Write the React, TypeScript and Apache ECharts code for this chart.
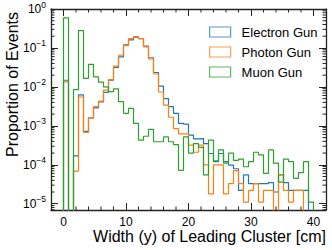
import React, { useEffect, useRef } from "react";
import * as echarts from "echarts";

// Histogram binning: 50 bins of 0.8 cm starting at 0 cm
const binStart = 0;
const binWidth = 0.8;

// Proportion of events per bin (0 = empty bin)
const electronGun = [
  0.0148, 0, 1.7e-4, 6.2e-3, 7.2e-4, 1.6e-3, 2.9e-3, 4.1e-3, 7.2e-3, 0.0148,
  0.0316, 0.059, 0.12, 0.162, 0.19, 0.174, 0.112, 0.056, 0.0234, 0.0105,
  5.0e-3, 3.1e-3, 2.1e-3, 1.15e-3, 1.1e-3, 5.8e-4, 4.6e-4, 4.7e-4, 3.5e-4, 1.95e-4,
  1.2e-4, 1.95e-4, 1.2e-4, 9.8e-5, 7.9e-5, 2.2e-5, 5.5e-5, 3.3e-5, 3.3e-5, 3.3e-5,
  3.3e-5, 3.5e-5, 2.0e-5, 5.5e-5, 3.5e-5, 2.2e-5, 2.2e-5, 2.2e-5, 2.2e-5, 0,
];
const photonGun = [
  0.0135, 0, 6.9e-5, 5.5e-3, 6.8e-4, 1.6e-3, 3.1e-3, 4.3e-3, 8.3e-3, 0.0155,
  0.034, 0.065, 0.115, 0.174, 0.195, 0.174, 0.107, 0.052, 0.0214, 7.4e-3,
  3.4e-3, 1.66e-3, 8.5e-4, 6.2e-4, 6.2e-4, 3.2e-4, 2.1e-4, 3.2e-4, 1.0e-4, 1.8e-5,
  1.0e-4, 1.0e-4, 1.8e-5, 3.3e-5, 7.1e-5, 3.3e-5, 1.1e-5, 2.2e-5, 3.3e-5, 1.1e-5,
  2.2e-5, 2.2e-5, 0, 5.5e-5, 2.2e-5, 1.1e-5, 2.2e-5, 2.2e-5, 0, 0,
];
const muonGun = [
  0.59, 0, 8.5e-3, 0.28, 0.0166, 0.038, 0.018, 0.0132, 0.01, 7.6e-3,
  8.9e-3, 4.2e-3, 2.1e-3, 2.8e-3, 1.15e-3, 4.3e-4, 5.4e-4, 8.1e-4, 3.9e-4, 3.9e-4,
  5.2e-4, 3.9e-4, 3.3e-4, 7.2e-5, 5.2e-4, 2.0e-4, 3.5e-4, 2.8e-4, 5.5e-5, 4.3e-4,
  1.26e-4, 2.4e-4, 1.1e-4, 2.0e-4, 1.3e-4, 1.4e-4, 8.9e-5, 1.2e-4, 2.1e-4, 1.8e-4,
  6.0e-5, 2.4e-4, 1.1e-4, 3.6e-5, 1.4e-4, 1.2e-4, 4.5e-5, 6.3e-5, 1.2e-4, 1.1e-5,
];

const seriesNames = ["Electron Gun", "Photon Gun", "Muon Gun"];
const seriesColors = ["#1f77b4", "#ff7f0e", "#2ca02c"];
const xTickLabels = [0, 10, 20, 30, 40];

const X_MIN = -2;
const X_MAX = 42;
const Y_MIN = 6.9e-6;
const Y_MAX = 1;
const FLOOR = 1e-9;
const FONT = "'Liberation Sans', Arial, sans-serif";
const AXIS_COLOR = "#222";

function stepPoints(vals: number[]): number[][] {
  const pts: number[][] = [[binStart, FLOOR]];
  vals.forEach((v, i) => {
    const lo = binStart + i * binWidth;
    const hi = lo + binWidth;
    const y = v > 0 ? v : FLOOR;
    pts.push([lo, y], [hi, y]);
  });
  pts.push([binStart + vals.length * binWidth, FLOOR]);
  return pts;
}

function xMinorTicks(): number[] {
  const out: number[] = [];
  for (let v = 2; v < X_MAX; v += 2) if (v % 10 !== 0) out.push(v);
  return out;
}

function yMinorTicks(): number[] {
  const out: number[] = [];
  for (let n = -6; n <= -1; n++) {
    for (let k = 2; k <= 9; k++) {
      const v = Number((k * Math.pow(10, n)).toPrecision(3));
      if (v >= Y_MIN && v <= Y_MAX) out.push(v);
    }
  }
  return out;
}

function yLabel(v: number): string {
  const l = Math.log10(v);
  const e = Math.round(l);
  if (Math.abs(l - e) > 1e-6) return "";
  const exp = e < 0 ? "\u2212" + -e : String(e);
  return "{b|10}{s|" + exp + "}";
}

export default function App() {
  const ref = useRef<HTMLDivElement>(null);
  useEffect(() => {
    if (!ref.current) return;
    const chart = echarts.init(ref.current, undefined, { renderer: "svg" });
    const data = [electronGun, photonGun, muonGun];

    const baseX = {
      type: "value",
      min: X_MIN,
      max: X_MAX,
      axisLine: { show: true, onZero: false, lineStyle: { color: AXIS_COLOR, width: 1.3 } },
      axisTick: { show: true, inside: true, length: 7, lineStyle: { color: AXIS_COLOR, width: 1 } },
      splitLine: { show: false },
    };
    const baseY = {
      type: "log",
      logBase: 10,
      min: Y_MIN,
      max: Y_MAX,
      axisLine: { show: true, onZero: false, lineStyle: { color: AXIS_COLOR, width: 1.3 } },
      axisTick: { show: true, inside: true, length: 7, lineStyle: { color: AXIS_COLOR, width: 1 } },
      splitLine: { show: false },
    };

    const option: any = {
      animation: false,
      backgroundColor: "#fff",
      grid: { left: 51, right: 6, top: 9, bottom: 40, containLabel: false },
      xAxis: [
        {
          ...baseX,
          position: "bottom",
          axisLabel: {
            show: true,
            margin: 6,
            fontSize: 12,
            fontFamily: FONT,
            color: "#000",
            formatter: (v: number) => (xTickLabels.indexOf(v) >= 0 ? String(v) : ""),
          },
        },
        { ...baseX, position: "top", axisLabel: { show: false } },
      ],
      yAxis: [
        {
          ...baseY,
          position: "left",
          axisLabel: {
            show: true,
            margin: 5,
            formatter: yLabel,
            rich: {
              b: { fontSize: 12, fontFamily: FONT, color: "#000" },
              s: { fontSize: 8.5, fontFamily: FONT, color: "#000", padding: [0, 0, 9, 0] },
            },
          },
        },
        { ...baseY, position: "right", axisLabel: { show: false } },
      ],
      legend: {
        orient: "vertical",
        left: 204,
        top: 20,
        itemWidth: 21,
        itemHeight: 10,
        itemGap: 6,
        icon: "rect",
        textStyle: { fontSize: 13, fontFamily: FONT, color: "#000", lineHeight: 14, padding: [0, 0, 0, 6] },
        data: seriesNames.map((n, i) => ({
          name: n,
          itemStyle: { color: "rgba(255,255,255,0)", borderColor: seriesColors[i], borderWidth: 1.2, opacity: 0.75 },
        })),
      },
      graphic: [
        {
          type: "text",
          x: 326,
          y: 236,
          style: {
            text: "Width (y) of Leading Cluster [cm]",
            align: "right",
            verticalAlign: "middle",
            fontSize: 16,
            fontFamily: FONT,
            fill: "#000",
          },
        },
        {
          type: "text",
          x: 12,
          y: 12,
          rotation: Math.PI / 2,
          style: {
            text: "Proportion of Events",
            align: "right",
            verticalAlign: "middle",
            fontSize: 16,
            fontFamily: FONT,
            fill: "#000",
          },
        },
      ],
      series: [
        ...data.map((vals, i) => ({
          name: seriesNames[i],
          type: "line",
          xAxisIndex: 0,
          yAxisIndex: 0,
          data: stepPoints(vals),
          showSymbol: false,
          symbol: "none",
          clip: true,
          color: seriesColors[i],
          lineStyle: { color: seriesColors[i], width: 1.2 },
          itemStyle: { color: seriesColors[i] },
          z: 2 + i,
        })),
        {
          type: "custom",
          name: "xminor",
          xAxisIndex: 0,
          yAxisIndex: 0,
          silent: true,
          data: xMinorTicks().map((v) => [v, Y_MIN]),
          encode: { x: 0, y: 1 },
          renderItem: (_p: any, api: any) => {
            const v = api.value(0);
            const b = api.coord([v, Y_MIN]);
            const t = api.coord([v, Y_MAX]);
            const st = { stroke: AXIS_COLOR, lineWidth: 1 };
            return {
              type: "group",
              children: [
                { type: "line", shape: { x1: b[0], y1: b[1], x2: b[0], y2: b[1] - 3.5 }, style: st },
                { type: "line", shape: { x1: t[0], y1: t[1], x2: t[0], y2: t[1] + 3.5 }, style: st },
              ],
            };
          },
        },
        {
          type: "custom",
          name: "yminor",
          xAxisIndex: 0,
          yAxisIndex: 0,
          silent: true,
          data: yMinorTicks().map((v) => [X_MIN, v]),
          encode: { x: 0, y: 1 },
          renderItem: (_p: any, api: any) => {
            const v = api.value(1);
            const l = api.coord([X_MIN, v]);
            const r = api.coord([X_MAX, v]);
            const st = { stroke: AXIS_COLOR, lineWidth: 1 };
            return {
              type: "group",
              children: [
                { type: "line", shape: { x1: l[0], y1: l[1], x2: l[0] + 3.5, y2: l[1] }, style: st },
                { type: "line", shape: { x1: r[0], y1: r[1], x2: r[0] - 3.5, y2: r[1] }, style: st },
              ],
            };
          },
        },
      ],
    };
    chart.setOption(option);
    return () => chart.dispose();
  }, []);
  return <div ref={ref} style={{ position: "fixed", left: 0, top: 0, width: 332, height: 250 }} />;
}
